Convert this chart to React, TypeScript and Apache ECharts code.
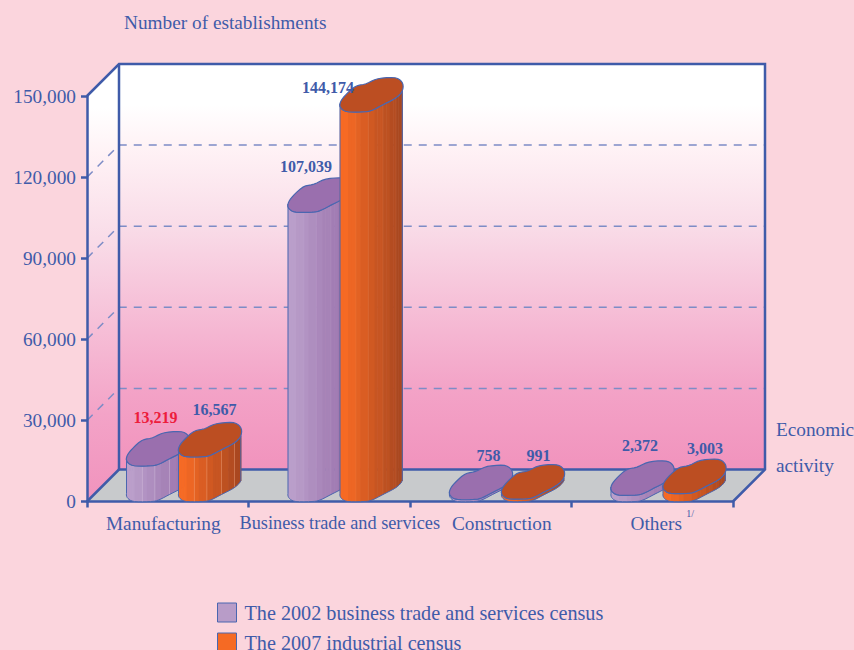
import React, { useEffect, useRef } from "react";
import * as echarts from "echarts";

const categories = ["Manufacturing", "Business trade and services", "Construction", "Others"];
const census2002 = [13219, 107039, 758, 2372];
const census2007 = [16567, 144174, 991, 3003];
const labels2002 = ["13,219", "107,039", "758", "2,372"];
const labels2007 = ["16,567", "144,174", "991", "3,003"];
const yTickValues = [30000, 60000, 90000, 120000];
const name2002 = "The 2002 business trade and services census";
const name2007 = "The 2007 industrial census";

const INK = "#3F5BA9";
const SERIF = "'Liberation Serif', serif";
const DEPTH = 32;
const FONT = 19.3;

// footprint of a bar's top, relative to its front-left point
const knots: number[][] = [
  [0, -8], [4, -15], [15, -25], [26, -28], [38, -33], [55, -34], [62.3, -29],
  [62.3, -21], [56, -14], [43, -7], [32, -1.5], [24, 0], [8, 0], [1.5, -3],
];
const STEPS = 4;
const loop: number[][] = [];
for (let i = 0; i < knots.length; i++) {
  const n = knots.length;
  const p0 = knots[(i - 1 + n) % n], p1 = knots[i], p2 = knots[(i + 1) % n], p3 = knots[(i + 2) % n];
  for (let s = 0; s < STEPS; s++) {
    const t = s / STEPS;
    const f = (a: number, b: number, c: number, d: number) =>
      0.5 * (2 * b + (c - a) * t + (2 * a - 5 * b + 4 * c - d) * t * t + (3 * b - a - 3 * c + d) * t * t * t);
    loop.push([f(p0[0], p1[0], p2[0], p3[0]), f(p0[1], p1[1], p2[1], p3[1])]);
  }
}
const lowerPath = [...loop.slice(7 * STEPS), loop[0]];

const mix = (a: number[], b: number[], t: number) =>
  `rgb(${a.map((v, i) => Math.round(v + (b[i] - v) * t)).join(",")})`;

function barRenderer(
  offsetX: number, sideFrom: number[], sideTo: number[], topColor: string, stripe: string,
  labels: string[], labelColors: string[], labelOffsets: number[][]
) {
  return (_params: any, api: any) => {
    const idx = api.value(0);
    const [cx, yTop] = api.coord([idx, api.value(1)]);
    const [, yBase] = api.coord([idx, 0]);
    const h = yBase - yTop;
    const x0 = cx + offsetX;
    const children: any[] = [];
    const BANDS = 9;
    const W = 62.3;
    let prevBand = -1;
    for (let i = lowerPath.length - 1; i > 0; i--) {
      const a = lowerPath[i], b = lowerPath[i - 1];
      const band = Math.min(BANDS - 1, Math.max(0, Math.floor((((a[0] + b[0]) / 2) / W) * BANDS)));
      children.push({
        type: "polygon",
        shape: {
          points: [
            [x0 + a[0], yTop + a[1]], [x0 + b[0] + 0.6, yTop + b[1]],
            [x0 + b[0] + 0.6, yTop + b[1] + h], [x0 + a[0], yTop + a[1] + h],
          ],
        },
        style: { fill: mix(sideFrom, sideTo, band / (BANDS - 1)), stroke: null },
      });
      if (band !== prevBand && prevBand !== -1 && h > 10 && band % 2 === 0) {
        children.push({
          type: "line",
          shape: { x1: x0 + a[0], y1: yTop + a[1], x2: x0 + a[0], y2: yTop + a[1] + h },
          style: { stroke: stripe, lineWidth: 0.8, opacity: h > 100 ? 0.15 : 0.5 },
        });
      }
      prevBand = band;
    }
    children.push({
      type: "polygon",
      shape: {
        points: [
          ...lowerPath.map((p) => [x0 + p[0], yTop + p[1]]),
          ...lowerPath.slice().reverse().map((p) => [x0 + p[0], yTop + p[1] + h]),
        ],
      },
      style: { fill: "none", stroke: "#4A66B0", lineWidth: 1 },
    });
    children.push({
      type: "polygon",
      shape: { points: loop.map((p) => [x0 + p[0], yTop + p[1]]) },
      style: { fill: topColor, stroke: "#4A66B0", lineWidth: 1.2 },
    });
    const off = labelOffsets[idx];
    children.push({
      type: "text",
      style: {
        text: labels[idx], x: x0 + off[0], y: yTop + off[1],
        fill: labelColors[idx], font: `bold 16px ${SERIF}`, align: "center", verticalAlign: "middle",
      },
    });
    return { type: "group", children };
  };
}

function backdrop(params: any, api: any) {
  const cs = params.coordSys;
  const L = cs.x, R = cs.x + cs.width;
  const y0 = api.coord([0, 0])[1];
  const yMax = api.coord([0, 150000])[1];
  const grad = new echarts.graphic.LinearGradient(0, 0, 0, 1, [
    { offset: 0, color: "#FFFFFF" },
    { offset: 0.1, color: "#FFFFFF" },
    { offset: 0.2, color: "#FFF3F6" },
    { offset: 0.4, color: "#F9DCE8" },
    { offset: 0.6, color: "#F6BFD7" },
    { offset: 0.8, color: "#F3A3C7" },
    { offset: 1, color: "#F193BD" },
  ]);
  const children: any[] = [
    {
      type: "polygon",
      shape: { points: [[L, yMax], [L + DEPTH, yMax - DEPTH], [L + DEPTH, y0 - DEPTH], [L, y0]] },
      style: { fill: grad, stroke: null },
    },
    {
      type: "rect",
      shape: { x: L + DEPTH, y: yMax - DEPTH, width: cs.width, height: y0 - yMax },
      style: { fill: grad, stroke: null },
    },
    {
      type: "polygon",
      shape: { points: [[L, y0], [L + DEPTH, y0 - DEPTH], [R + DEPTH, y0 - DEPTH], [R, y0]] },
      style: { fill: "#C8CACC", stroke: null },
    },
  ];
  yTickValues.forEach((v) => {
    const y = api.coord([0, v])[1];
    const dash = { stroke: "#7D8CC6", lineWidth: 1.5, lineDash: [8, 7] };
    children.push({
      type: "polyline",
      shape: { points: [[L, y], [L + DEPTH, y - DEPTH], [R + DEPTH, y - DEPTH]] },
      style: { ...dash, fill: "none" },
    });
  });
  const solid = { stroke: INK, lineWidth: 2.5, fill: "none" };
  children.push(
    { type: "polyline", shape: { points: [[L, yMax], [L + DEPTH, yMax - DEPTH], [R + DEPTH, yMax - DEPTH], [R + DEPTH, y0 - DEPTH], [R, y0]] }, style: solid },
    { type: "polyline", shape: { points: [[L + DEPTH, yMax - DEPTH], [L + DEPTH, y0 - DEPTH], [R + DEPTH, y0 - DEPTH]] }, style: solid },
    { type: "line", shape: { x1: L, y1: y0, x2: L + DEPTH, y2: y0 - DEPTH }, style: solid },
    {
      type: "text",
      style: {
        text: "1/", x: api.coord([3, 0])[0] + 38, y: y0 + 12,
        fill: INK, font: `10px ${SERIF}`, align: "center", verticalAlign: "middle",
      },
    }
  );
  return { type: "group", children };
}

export default function App() {
  const ref = useRef<HTMLDivElement>(null);
  useEffect(() => {
    const chart = echarts.init(ref.current!, undefined, { renderer: "svg" });
    chart.setOption({
      animation: false,
      backgroundColor: "#FBD5DD",
      textStyle: { fontFamily: SERIF },
      grid: { left: 87, top: 96, width: 646, height: 405.5, outerBoundsMode: "none" },
      legend: {
        orient: "vertical", left: 217, top: 602.5, padding: 0, itemGap: 10,
        itemWidth: 19, itemHeight: 19, icon: "rect", selectedMode: false,
        textStyle: { color: INK, fontSize: 20.2, fontFamily: SERIF, padding: [5, 0, 0, 3] },
        data: [
          { name: name2002, itemStyle: { color: "#B89CC8", borderColor: "#4A66B0", borderWidth: 1 } },
          { name: name2007, itemStyle: { color: "#F56A24", borderColor: "#4A66B0", borderWidth: 1 } },
        ],
      },
      xAxis: {
        type: "category", z: 5,
        data: [
          { value: categories[0], textStyle: { padding: [0, 9, 0, 0] } },
          { value: categories[1], textStyle: { fontSize: 18.3, padding: [0, 0, 0, 21] } },
          { value: categories[2], textStyle: { padding: [0, 0, 0, 22] } },
          { value: categories[3], textStyle: { padding: [0, 0, 0, 8] } },
        ],
        axisLine: { show: true, lineStyle: { color: INK, width: 2.5 } },
        axisTick: { show: true, length: 6, lineStyle: { color: INK, width: 2.5 } },
        axisLabel: { color: INK, fontSize: FONT, fontFamily: SERIF, margin: 12, interval: 0, hideOverlap: false },
        name: "Economic\n\nactivity",
        nameLocation: "end", nameGap: 43,
        nameTextStyle: { color: INK, fontSize: FONT, fontFamily: SERIF, align: "left", verticalAlign: "bottom", lineHeight: 18, padding: [0, 0, 27, 0] },
      },
      yAxis: {
        type: "value", min: 0, max: 150000, interval: 30000, z: 5,
        splitLine: { show: false },
        axisLine: { show: true, lineStyle: { color: INK, width: 2.5 } },
        axisTick: { show: true, length: 6, lineStyle: { color: INK, width: 2.5 } },
        axisLabel: { color: INK, fontSize: FONT, fontFamily: SERIF, margin: 11, formatter: (v: number) => v.toLocaleString("en-US") },
        name: "Number of establishments",
        nameLocation: "end", nameGap: 64.5,
        nameTextStyle: { color: INK, fontSize: FONT, fontFamily: SERIF, align: "left", padding: [0, 0, 0, 37] },
      },
      series: [
        {
          type: "custom", name: "backdrop", z: 1, silent: true, coordinateSystem: "cartesian2d",
          data: [[0, 0]], encode: { x: 0, y: 1 }, renderItem: backdrop,
        },
        {
          type: "custom", name: name2002, z: 6, coordinateSystem: "cartesian2d", silent: true,
          itemStyle: { color: "#B89CC8" },
          data: census2002.map((v, i) => [i, v]), encode: { x: 0, y: 1 },
          renderItem: barRenderer(-41.25, [186, 158, 202], [154, 114, 172], "#9A6FAE", "#D9C6E2", labels2002,
            ["#ED1C3C", INK, INK, INK],
            [[29, -48], [18, -46], [39, -44], [29, -50]]),
        },
        {
          type: "custom", name: name2007, z: 7, coordinateSystem: "cartesian2d", silent: true,
          itemStyle: { color: "#F56A24" },
          data: census2007.map((v, i) => [i, v]), encode: { x: 0, y: 1 },
          renderItem: barRenderer(10.75, [246, 106, 36], [170, 72, 32], "#BC4E22", "#F5B08C", labels2007,
            [INK, INK, INK, INK],
            [[36, -47], [-12, -24], [37, -43], [42, -45]]),
        },
      ],
    });
    return () => chart.dispose();
  }, []);
  return <div ref={ref} style={{ position: "fixed", left: 0, top: 0, width: 854, height: 680 }} />;
}
